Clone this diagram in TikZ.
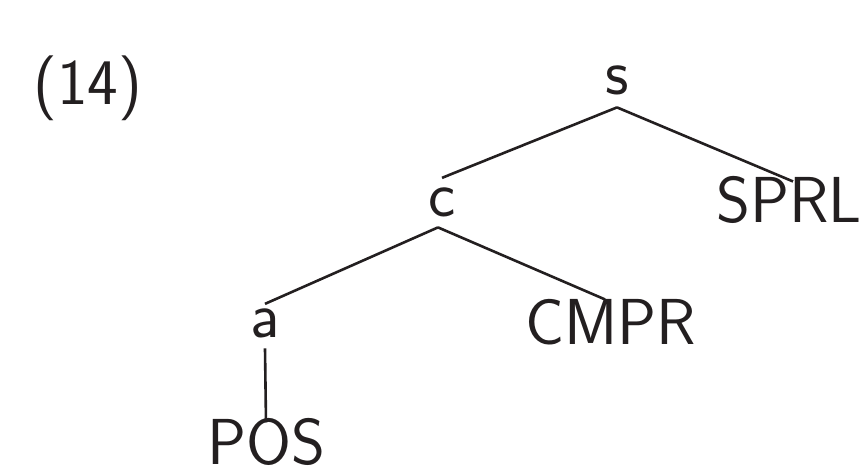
\documentclass[tikz,border=0pt]{standalone}
\usepackage{fontspec}
\begin{document}
\begin{tikzpicture}[x=0.5pt,y=-0.5pt,
  lbl/.style={inner sep=0pt,text depth=0pt,anchor=base,font=\sffamily\fontsize{32.5}{38}\selectfont,text=ink},
  edge/.style={draw=ink,line width=1.3pt}]
\definecolor{ink}{HTML}{231F20}
\useasboundingbox (0,0) rectangle (859,470);
% example number
\node[lbl] (num) at (88,105) {(14)};
% tree labels
\node[lbl] (s) at (617,95) {s};
\node[lbl] (c) at (442,217) {c};
\node[lbl] (sprl) at (789,223) {SPRL};
\node[lbl] (a) at (265,338) {a};
\node[lbl] (cmpr) at (611,345) {CMPR};
\node[lbl] (pos) at (266,465) {POS};
% branches
\draw[edge] ([yshift=-6pt]s.south) -- ([yshift=5pt]c.north);
\draw[edge] ([yshift=-6pt]s.south) -- ([xshift=2pt,yshift=-2.5pt]sprl.north);
\draw[edge] ([xshift=-2pt,yshift=-5pt]c.south) -- ([yshift=2.5pt]a.north);
\draw[edge] ([xshift=-2pt,yshift=-5pt]c.south) -- ([xshift=-3pt]cmpr.north);
\draw[edge] ([yshift=-5pt]a.south) -- ([yshift=-2pt]pos.north);
\end{tikzpicture}
\end{document}
